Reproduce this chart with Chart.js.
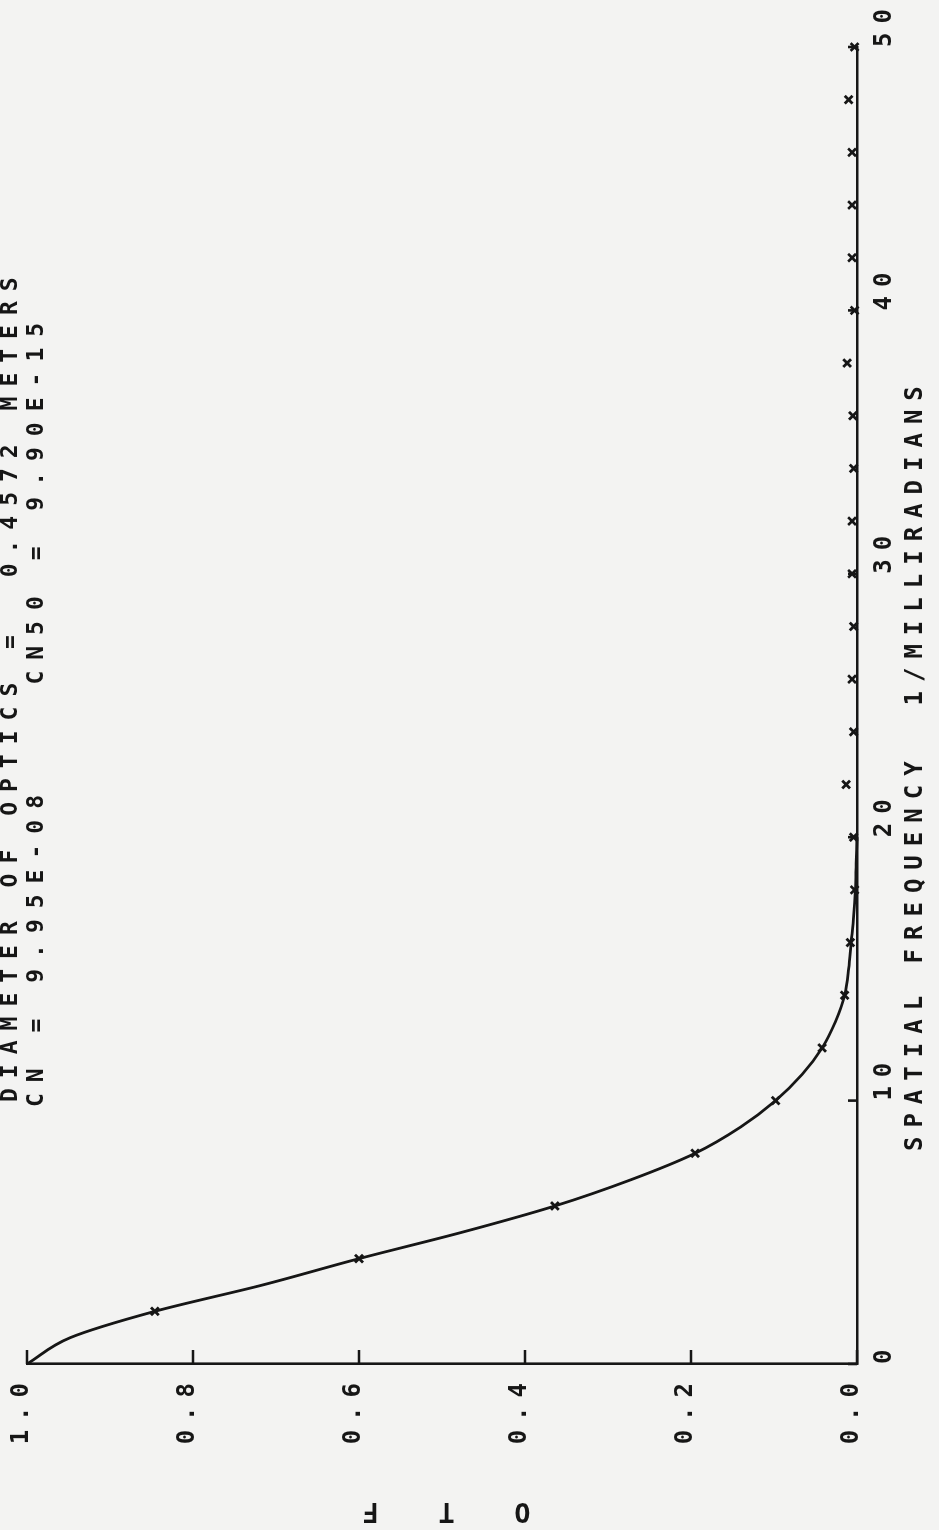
<!DOCTYPE html>
<html>
<head>
<meta charset="utf-8">
<title>OTF vs spatial frequency</title>
<script src="https://cdn.jsdelivr.net/npm/chart.js@4.4.1/dist/chart.umd.min.js"></script>
<style>
    html, body { margin: 0; padding: 0; background: #f3f3f2; }
    body { width: 939px; height: 1530px; overflow: hidden; position: relative; }
    /* the plotter drew this one sideways: build it landscape, then turn it a quarter left */
    #wrap {
        position: absolute; left: 0; top: 1530px;
        width: 1530px; height: 939px;
        transform-origin: 0 0; transform: rotate(-90deg);
    }
</style>
</head>
<body>
<div id="wrap"><canvas id="otf-chart" width="1530" height="939"></canvas></div>
<script>
(function() {
    'use strict';

    // ==========================================
    // DATA
    // ==========================================
    const freqCurve = [0, 1, 2, 3, 4, 5, 6, 7, 8, 9, 10, 11, 12, 13, 14, 15, 16, 17, 18, 19, 20];
    const otfCurve = [1.000, 0.948, 0.846, 0.716, 0.600, 0.476, 0.364, 0.272, 0.195, 0.140, 0.098,
                      0.066, 0.042, 0.026, 0.015, 0.010, 0.007, 0.004, 0.002, 0.001, 0.000];

    const freqPoints = [2, 4, 6, 8, 10, 12, 14, 16, 18, 20, 22, 24, 26,
                        28, 30, 32, 34, 36, 38, 40, 42, 44, 46, 48, 50];
    const otfPoints = [0.846, 0.600, 0.364, 0.195, 0.098, 0.042, 0.015, 0.008, 0.003, 0.004, 0.013, 0.004, 0.006,
                       0.004, 0.006, 0.006, 0.004, 0.005, 0.012, 0.003, 0.006, 0.006, 0.006, 0.010, 0.003];

    const freqTicks = ['0', '10', '20', '30', '40', '50'];
    const otfTicks = ['0.0', '0.2', '0.4', '0.6', '0.8', '1.0'];

    const headerLines = [
        'DIAMETER OF OPTICS =  0.4572 METERS',
        'CN = 9.95E-08    CN50 = 9.90E-15'
    ];

    const INK = '#161616';
    const FONT = "'DejaVu Sans Mono', 'Liberation Mono', monospace";

    // ==========================================
    // PLUGINS
    // ==========================================
    // wide pen-plotter lettering + the two header lines
    const plotterText = {
        id: 'plotterText',
        beforeDraw: function(chart) {
            chart.ctx.letterSpacing = '9px';
        },
        afterDraw: function(chart) {
            const ctx = chart.ctx;
            ctx.save();
            ctx.fillStyle = INK;
            ctx.font = 'bold 23px ' + FONT;
            ctx.textAlign = 'left';
            ctx.textBaseline = 'middle';
            ctx.letterSpacing = '10px';
            ctx.fillText(headerLines[0], 428, 11);
            ctx.letterSpacing = '11px';
            ctx.fillText(headerLines[1], 423, 37);
            ctx.restore();
        }
    };

    // tick marks point into the plot on both axes
    const inwardTicks = {
        id: 'inwardTicks',
        afterDatasetsDraw: function(chart) {
            const ctx = chart.ctx;
            const xs = chart.scales.x;
            const ys = chart.scales.y;
            const area = chart.chartArea;
            ctx.save();
            ctx.strokeStyle = INK;
            ctx.lineWidth = 2.6;
            ctx.beginPath();
            xs.ticks.forEach(function(t) {
                const px = xs.getPixelForValue(t.value);
                ctx.moveTo(px, area.bottom);
                ctx.lineTo(px, area.bottom - 9);
            });
            ys.ticks.forEach(function(t) {
                const py = ys.getPixelForValue(t.value);
                ctx.moveTo(area.left, py);
                ctx.lineTo(area.left + 14, py);
            });
            ctx.stroke();
            ctx.restore();
        }
    };

    // ==========================================
    // CHART
    // ==========================================
    new Chart(document.getElementById('otf-chart'), {
        type: 'line',
        data: {
            datasets: [{
                label: 'OTF',
                data: freqCurve.map(function(f, i) { return { x: f, y: otfCurve[i] }; }),
                borderColor: INK,
                borderWidth: 2.8,
                pointRadius: 0,
                cubicInterpolationMode: 'monotone',
                clip: false
            }, {
                label: 'samples',
                data: freqPoints.map(function(f, i) { return { x: f, y: otfPoints[i] }; }),
                showLine: false,
                pointStyle: 'crossRot',
                pointRadius: 5.5,
                pointBorderWidth: 2.8,
                pointBorderColor: INK,
                borderColor: INK,
                clip: false
            }]
        },
        options: {
            responsive: false,
            animation: false,
            devicePixelRatio: 1,
            layout: { padding: { top: 27, right: 47, bottom: 0, left: 0 } },
            plugins: {
                legend: { display: false },
                tooltip: { enabled: false }
            },
            scales: {
                x: {
                    type: 'linear',
                    min: 0,
                    max: 50,
                    afterFit: function(s) { s.height = 82; s.paddingLeft = 0; s.paddingRight = 0; },
                    grid: { display: false, drawTicks: false },
                    border: { display: true, color: INK, width: 2.6 },
                    ticks: {
                        stepSize: 10,
                        align: 'start',
                        padding: 13,
                        color: INK,
                        font: { family: FONT, size: 24, weight: 'bold' },
                        callback: function(v, i) { return freqTicks[i]; }
                    },
                    title: {
                        display: true,
                        text: 'SPATIAL FREQUENCY  1/MILLIRADIANS     ',
                        color: INK,
                        font: { family: FONT, size: 24, weight: 'bold' },
                        padding: { top: 0, bottom: 9 }
                    }
                },
                y: {
                    type: 'linear',
                    min: 0,
                    max: 1,
                    afterFit: function(s) { s.width = 166; s.paddingTop = 0; s.paddingBottom = 0; },
                    grid: { display: false, drawTicks: false },
                    border: { display: true, color: INK, width: 2.6 },
                    ticks: {
                        stepSize: 0.2,
                        padding: 10,
                        labelOffset: -5,
                        color: INK,
                        font: { family: FONT, size: 24, weight: 'bold' },
                        callback: function(v, i) { return otfTicks[i]; }
                    },
                    title: {
                        display: true,
                        text: 'O  T  F',
                        color: INK,
                        font: { family: FONT, size: 27, weight: 'bold' },
                        padding: { top: 4, bottom: 0 }
                    }
                }
            }
        },
        plugins: [plotterText, inwardTicks]
    });
})();
</script>
</body>
</html>
